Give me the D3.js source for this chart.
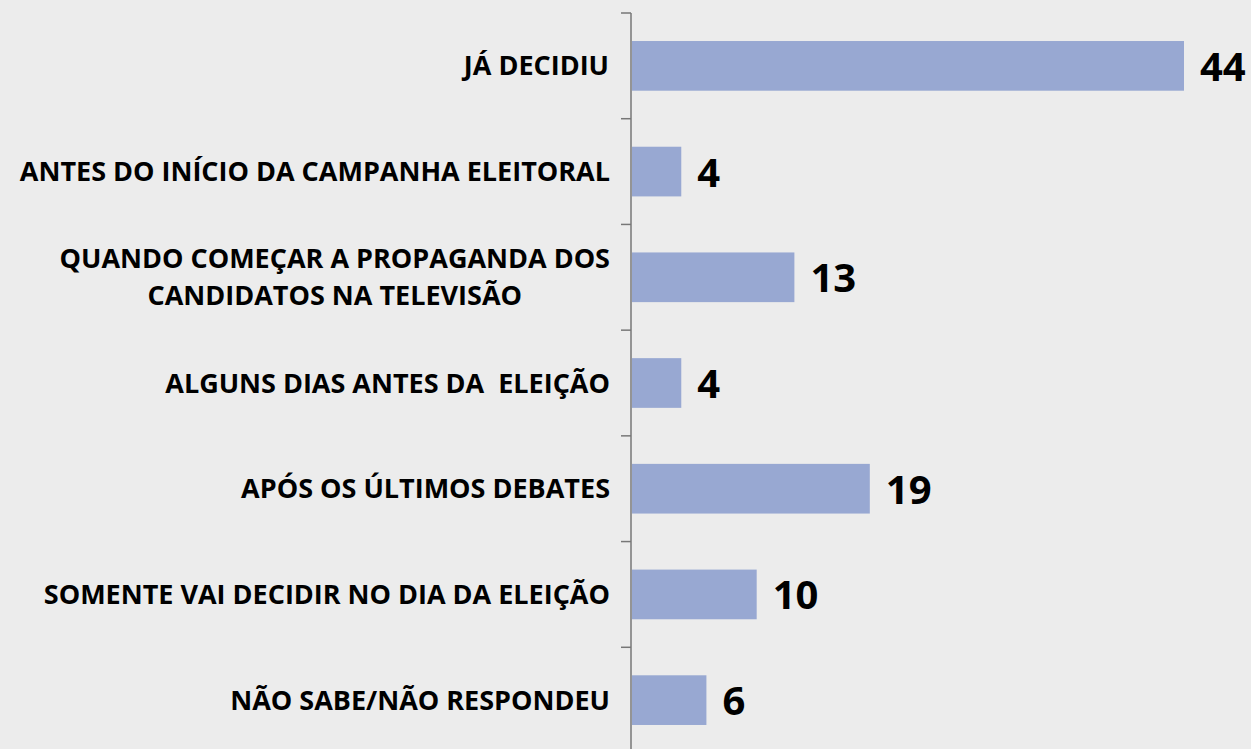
<!DOCTYPE html>
<html>
<head>
<meta charset="utf-8">
<script src="https://cdn.jsdelivr.net/npm/d3@7"></script>
<style>
  html, body { margin: 0; padding: 0; background: #ececec; }
  svg { display: block; }
  .cat { font-family: "Open Sans", sans-serif; font-weight: 700; font-size: 27px; fill: #000; white-space: pre; }
  .val { font-family: "Open Sans", sans-serif; font-weight: 700; font-size: 40px; fill: #000; }
</style>
</head>
<body>
<svg width="1251" height="749"></svg>
<script>
var categories = [
  ["JÁ DECIDIU"],
  ["ANTES DO INÍCIO DA CAMPANHA ELEITORAL"],
  ["QUANDO COMEÇAR A PROPAGANDA DOS", "CANDIDATOS NA TELEVISÃO"],
  ["ALGUNS DIAS ANTES DA  ELEIÇÃO"],
  ["APÓS OS ÚLTIMOS DEBATES"],
  ["SOMENTE VAI DECIDIR NO DIA DA ELEIÇÃO"],
  ["NÃO SABE/NÃO RESPONDEU"]
];
var values = [44, 4, 13, 4, 19, 10, 6];

var svg = d3.select("svg"),
    width = +svg.attr("width"),
    height = +svg.attr("height");

svg.append("rect").attr("width", width).attr("height", height).attr("fill", "#ececec");

var keys = d3.range(categories.length);

var x = d3.scaleLinear().domain([0, 44]).range([631, 1184]);
var y = d3.scaleBand().domain(keys).range([13, 753]).paddingInner(0.53).paddingOuter(0.265);

// axis with ticks between categories
var axis = svg.append("g").attr("transform", "translate(631,0)");
axis.append("line").attr("y1", 13).attr("y2", height + 5).attr("stroke", "#777").attr("stroke-width", 1.5);
axis.selectAll(".tk")
  .data(d3.range(categories.length + 1))
  .enter().append("line")
  .attr("x1", -10).attr("x2", 0)
  .attr("y1", function (i) { return 13 + i * (740 / categories.length); })
  .attr("y2", function (i) { return 13 + i * (740 / categories.length); })
  .attr("stroke", "#777").attr("stroke-width", 1.5);

svg.selectAll(".bar")
  .data(values)
  .enter().append("rect")
  .attr("x", x(0) + 1)
  .attr("y", function (d, i) { return y(i); })
  .attr("width", function (d) { return x(d) - x(0) - 1; })
  .attr("height", y.bandwidth())
  .attr("fill", "#98a8d2");

svg.selectAll(".val")
  .data(values)
  .enter().append("text")
  .attr("class", "val")
  .attr("x", function (d) { return x(d) + 16; })
  .attr("y", function (d, i) { return y(i) + y.bandwidth() / 2 + 15; })
  .text(function (d) { return d; });

var cat = svg.selectAll(".cat")
  .data(categories)
  .enter().append("text")
  .attr("class", "cat")
  .attr("xml:space", "preserve")
  .attr("text-anchor", "middle")
  .attr("y", function (d, i) { return y(i) + y.bandwidth() / 2 + 9.5 - (d.length - 1) * 18.5; });

cat.each(function (d) {
  var t = d3.select(this);
  d.forEach(function (line, j) {
    t.append("tspan").attr("x", 314).attr("dy", j ? 37 : 0).text(line);
  });
});
// centered block, right edge at 610
cat.each(function (d) {
  var t = d3.select(this);
  var w = this.getBBox().width;
  t.selectAll("tspan").attr("x", 610 - w / 2);
});
</script>
</body>
</html>
